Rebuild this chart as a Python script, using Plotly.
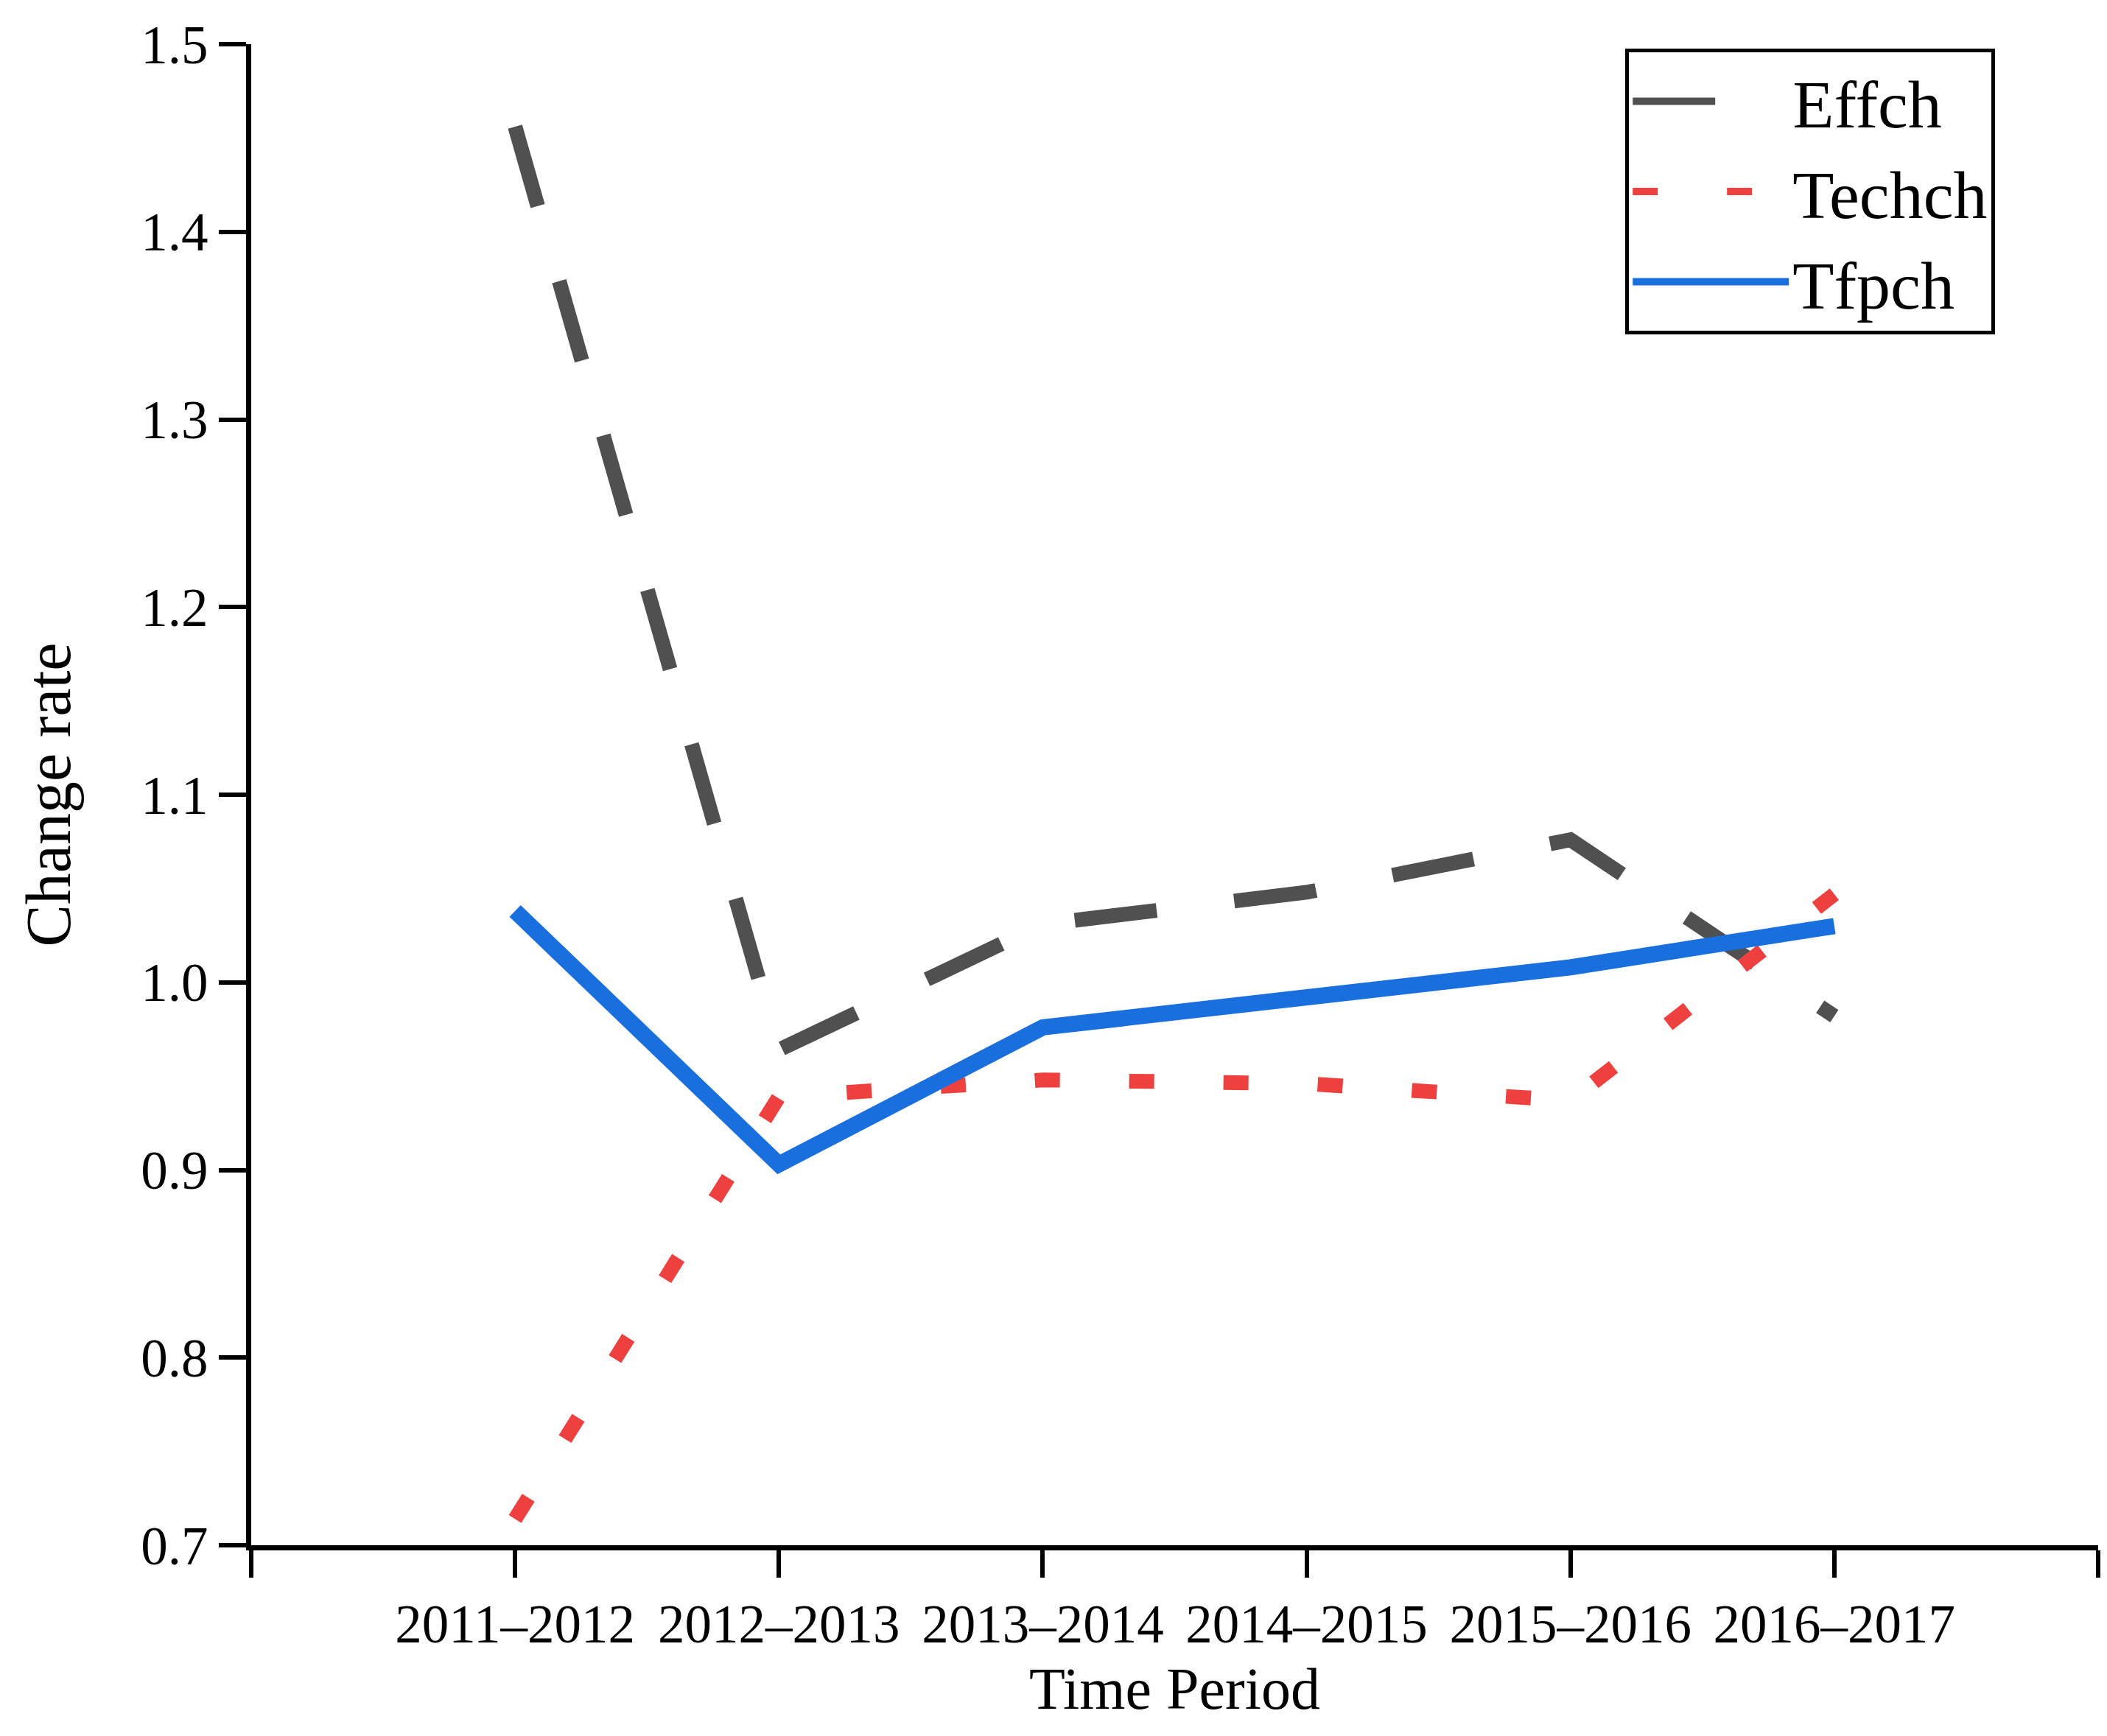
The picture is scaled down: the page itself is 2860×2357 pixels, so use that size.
import plotly.graph_objects as go

periods = ["2011–2012", "2012–2013", "2013–2014", "2014–2015", "2015–2016", "2016–2017"]
effch = [1.456, 0.964, 1.031, 1.048, 1.076, 0.982]
techch = [0.714, 0.939, 0.948, 0.946, 0.937, 1.047]
tfpch = [1.038, 0.903, 0.976, 0.991, 1.008, 1.030]

y_ticks = [0.7, 0.8, 0.9, 1.0, 1.1, 1.2, 1.3, 1.4, 1.5]

FONT = "Liberation Serif, Times New Roman, serif"
idx = list(range(len(periods)))

fig = go.Figure()
fig.add_trace(go.Scatter(x=idx, y=effch, mode="lines", name="Effch",
                         line=dict(color="#505050", width=20, dash="112px,106px")))
fig.add_trace(go.Scatter(x=idx, y=techch, mode="lines", name="Techch",
                         line=dict(color="#EF4040", width=20, dash="34px,94px")))
fig.add_trace(go.Scatter(x=idx, y=tfpch, mode="lines", name="Tfpch",
                         line=dict(color="#1A6FDF", width=22)))

fig.update_layout(
    width=2860, height=2357,
    paper_bgcolor="white", plot_bgcolor="white",
    margin=dict(l=333, r=20, t=52, b=267),
    font=dict(family=FONT, color="black", size=73),
    showlegend=True,
    legend=dict(x=0.744, y=0.997, xanchor="left", yanchor="top",
                bordercolor="black", borderwidth=5, bgcolor="white",
                font=dict(family=FONT, size=92), itemwidth=212,
                tracegroupgap=0),
    xaxis=dict(range=[-1, 6], tickmode="array",
               tickvals=[-1] + idx + [6], ticktext=[""] + periods + [""],
               showline=True, linecolor="black", linewidth=7,
               ticks="outside", ticklen=37, tickwidth=6, tickcolor="black",
               showgrid=False, zeroline=False,
               tickfont=dict(family=FONT, size=73),
               title=dict(text="Time Period", font=dict(family=FONT, size=80), standoff=22)),
    yaxis=dict(range=[0.7, 1.5], tickmode="array", tickvals=y_ticks,
               ticktext=[f"{v:.1f}" for v in y_ticks],
               showline=True, linecolor="black", linewidth=7,
               ticks="outside", ticklen=37, tickwidth=6, tickcolor="black",
               showgrid=False, zeroline=False,
               tickfont=dict(family=FONT, size=73),
               title=dict(text="Change rate", font=dict(family=FONT, size=86), standoff=70)),
)

fig.write_html("out.html")
